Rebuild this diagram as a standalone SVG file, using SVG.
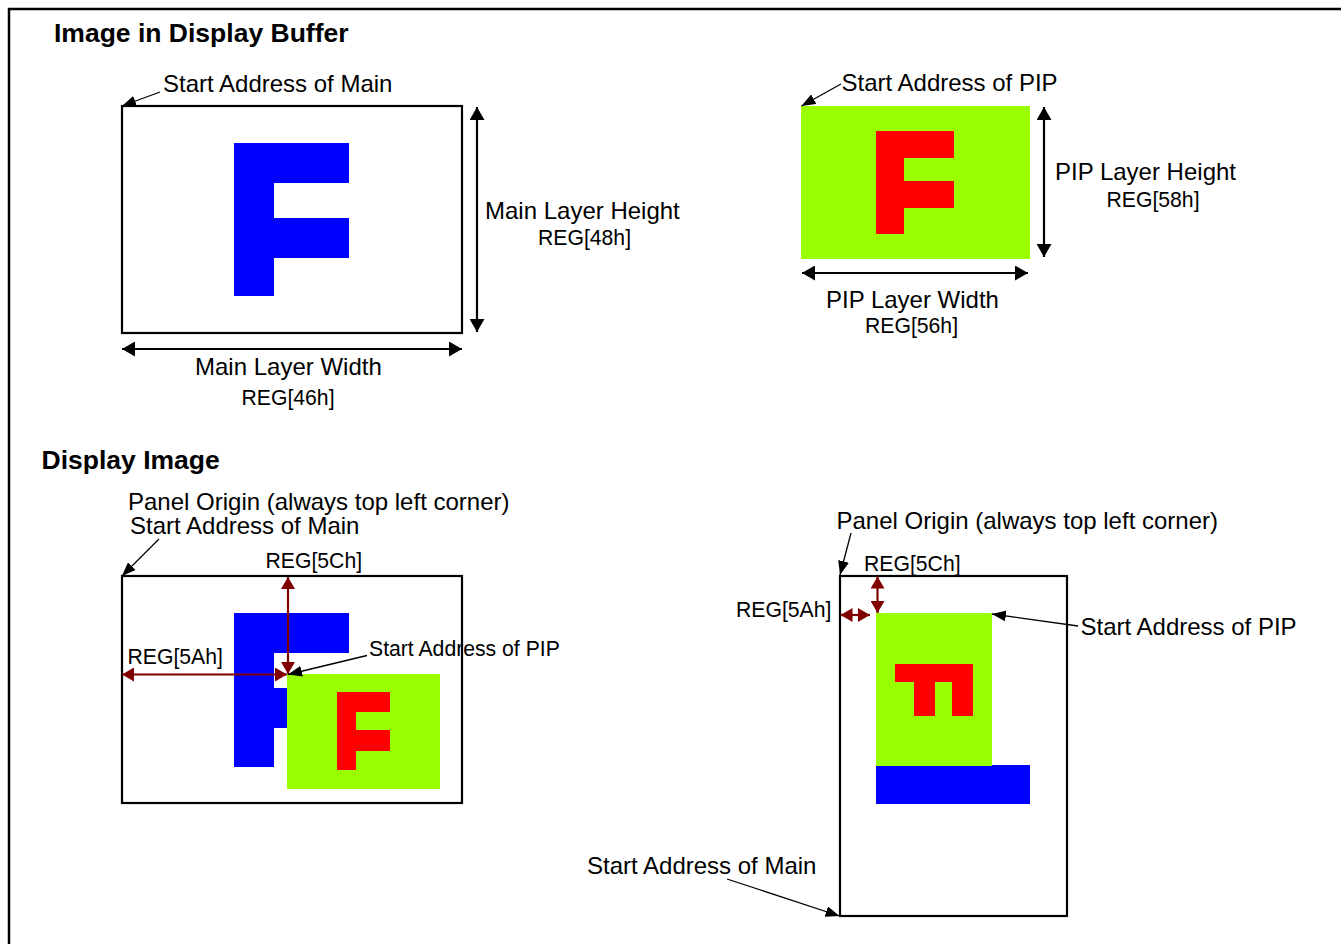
<svg xmlns="http://www.w3.org/2000/svg" width="1341" height="944" viewBox="0 0 1341 944">
<style>
text{font-family:"Liberation Sans",Arial,sans-serif;fill:#000}
.t{font-size:24px}
.s{font-size:21.2px}
.h{font-size:26.5px;font-weight:bold}
.box{fill:#fff;stroke:#000;stroke-width:2.2}
.blue{fill:#0000ff}
.green{fill:#99ff00}
.red{fill:#ff0000}
.dim{stroke:#000;stroke-width:2.2;fill:none}
.rdim{stroke:#800000;stroke-width:2.2;fill:none}
.lead{stroke:#000;stroke-width:1.3;fill:none}
</style>
<defs>
<marker id="ah" markerUnits="userSpaceOnUse" viewBox="0 0 13 15" refX="13" refY="7.5" markerWidth="13" markerHeight="15" orient="auto-start-reverse"><path d="M0,0 L13,7.5 L0,15 z" fill="#000"/></marker>
<marker id="rah" markerUnits="userSpaceOnUse" viewBox="0 0 12 14" refX="12" refY="7" markerWidth="12" markerHeight="14" orient="auto-start-reverse"><path d="M0,0 L12,7 L0,14 z" fill="#800000"/></marker>
<marker id="lah" markerUnits="userSpaceOnUse" viewBox="0 0 14 11" refX="14" refY="5.5" markerWidth="14" markerHeight="11" orient="auto"><path d="M0,0 L14,5.5 L0,11 z" fill="#000"/></marker>
</defs>
<rect x="9" y="9" width="1340" height="945" fill="#fff" stroke="#000" stroke-width="2.5"/>

<g id="buffer-main">
<rect class="box" x="122" y="106" width="340" height="227"/>
<rect class="blue" x="234" y="143" width="40" height="153"/>
<rect class="blue" x="234" y="143" width="115" height="40"/>
<rect class="blue" x="234" y="218" width="115" height="40"/>
</g>

<g id="buffer-pip">
<rect class="green" x="801" y="106" width="229" height="153"/>
<rect class="red" x="876" y="131" width="28" height="103"/>
<rect class="red" x="876" y="131" width="78" height="27"/>
<rect class="red" x="876" y="181" width="78" height="27"/>
</g>

<g id="display-left">
<rect class="box" x="122" y="576" width="340" height="227"/>
<rect class="blue" x="234" y="613" width="40" height="154"/>
<rect class="blue" x="234" y="613" width="115" height="40"/>
<rect class="blue" x="234" y="688" width="115" height="40"/>
<rect class="green" x="287" y="674" width="153" height="115"/>
<rect class="red" x="337" y="692" width="19" height="78"/>
<rect class="red" x="337" y="692" width="53" height="20"/>
<rect class="red" x="337" y="730" width="53" height="21"/>
</g>

<g id="display-right">
<rect class="box" x="840" y="576" width="227" height="340"/>
<rect class="blue" x="876" y="765" width="154" height="39"/>
<rect class="green" x="876" y="613" width="116" height="153"/>
<rect class="red" x="895" y="664" width="78" height="18"/>
<rect class="red" x="914" y="664" width="21" height="52"/>
<rect class="red" x="952" y="664" width="21" height="52"/>
</g>

<g id="connectors">
<line class="dim" x1="477" y1="107" x2="477" y2="332" marker-start="url(#ah)" marker-end="url(#ah)"/>
<line class="dim" x1="122" y1="349" x2="462" y2="349" marker-start="url(#ah)" marker-end="url(#ah)"/>
<line class="dim" x1="1044" y1="107" x2="1044" y2="257" marker-start="url(#ah)" marker-end="url(#ah)"/>
<line class="dim" x1="802" y1="273" x2="1028" y2="273" marker-start="url(#ah)" marker-end="url(#ah)"/>
<line class="rdim" x1="288" y1="577" x2="288" y2="674" marker-start="url(#rah)" marker-end="url(#rah)"/>
<line class="rdim" x1="122" y1="674.5" x2="287" y2="674.5" marker-start="url(#rah)" marker-end="url(#rah)"/>
<line class="rdim" x1="877.5" y1="576.5" x2="877.5" y2="613" marker-start="url(#rah)" marker-end="url(#rah)"/>
<line class="rdim" x1="840.5" y1="615" x2="870" y2="615" marker-start="url(#rah)" marker-end="url(#rah)"/>
<line class="lead" x1="160" y1="92" x2="122" y2="106" marker-end="url(#lah)"/>
<line class="lead" x1="841" y1="84" x2="801.5" y2="106" marker-end="url(#lah)"/>
<line class="lead" x1="159" y1="539" x2="122" y2="576" marker-end="url(#lah)"/>
<line class="lead" x1="367" y1="655.5" x2="288" y2="674.5" marker-end="url(#lah)"/>
<line class="lead" x1="851" y1="533" x2="840" y2="575" marker-end="url(#lah)"/>
<line class="lead" x1="1078" y1="626" x2="992" y2="614" marker-end="url(#lah)"/>
<line class="lead" x1="727" y1="879" x2="839.5" y2="916" marker-end="url(#lah)"/>
</g>

<g id="labels">
<text class="h" x="54" y="42">Image in Display Buffer</text>
<text class="t" x="163" y="92">Start Address of Main</text>
<text class="t" x="485" y="219">Main Layer Height</text>
<text class="s" x="538" y="245">REG[48h]</text>
<text class="t" x="195" y="375">Main Layer Width</text>
<text class="s" x="241.5" y="405">REG[46h]</text>
<text class="t" x="841.5" y="91">Start Address of PIP</text>
<text class="t" x="1055" y="180">PIP Layer Height</text>
<text class="s" x="1106.5" y="206.5">REG[58h]</text>
<text class="t" x="826" y="308">PIP Layer Width</text>
<text class="s" x="865" y="333">REG[56h]</text>
<text class="h" x="41.5" y="469">Display Image</text>
<text class="t" x="128" y="510">Panel Origin (always top left corner)</text>
<text class="t" x="130" y="533.5">Start Address of Main</text>
<text class="s" x="265.5" y="568">REG[5Ch]</text>
<text class="s" x="127.5" y="664">REG[5Ah]</text>
<text class="s" x="369" y="655.5">Start Address of PIP</text>
<text class="t" x="836.5" y="529">Panel Origin (always top left corner)</text>
<text class="s" x="864" y="570.5">REG[5Ch]</text>
<text class="s" x="736" y="616.5">REG[5Ah]</text>
<text class="t" x="1080.5" y="635">Start Address of PIP</text>
<text class="t" x="587" y="874">Start Address of Main</text>
</g>
</svg>
